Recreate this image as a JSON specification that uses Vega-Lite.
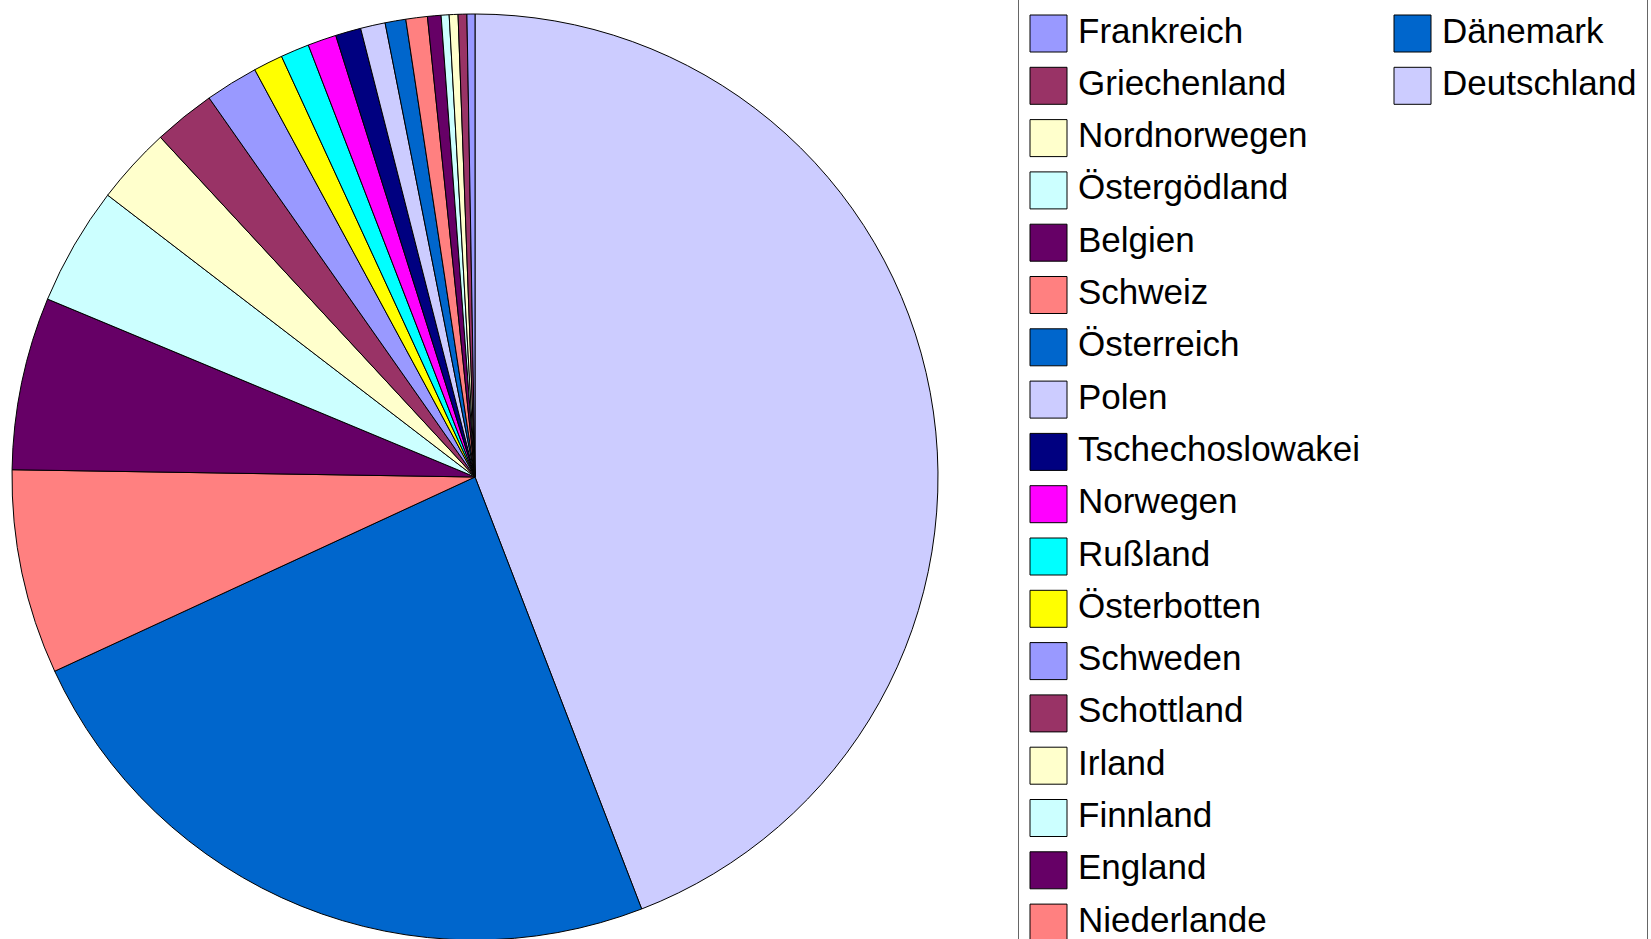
{
  "$schema": "https://vega.github.io/schema/vega-lite/v6.json",
  "padding": {"top": -20, "left": 0, "right": 0, "bottom": 0},
  "background": "white",
  "spacing": 67,
  "config": {"view": {"stroke": null}},
  "data": {
    "values": [
      {"idx": 0, "name": "Deutschland", "value": 158.9},
      {"idx": 1, "name": "Dänemark", "value": 86.3},
      {"idx": 2, "name": "Niederlande", "value": 25.7},
      {"idx": 3, "name": "England", "value": 21.7},
      {"idx": 4, "name": "Finnland", "value": 14.9},
      {"idx": 5, "name": "Irland", "value": 9.7},
      {"idx": 6, "name": "Schottland", "value": 7.75},
      {"idx": 7, "name": "Schweden", "value": 6.65},
      {"idx": 8, "name": "Österbotten", "value": 3.7},
      {"idx": 9, "name": "Rußland", "value": 3.6},
      {"idx": 10, "name": "Norwegen", "value": 3.6},
      {"idx": 11, "name": "Tschechoslowakei", "value": 3.2},
      {"idx": 12, "name": "Polen", "value": 3.1},
      {"idx": 13, "name": "Österreich", "value": 2.6},
      {"idx": 14, "name": "Schweiz", "value": 2.7},
      {"idx": 15, "name": "Belgien", "value": 1.7},
      {"idx": 16, "name": "Östergödland", "value": 1.0},
      {"idx": 17, "name": "Nordnorwegen", "value": 1.1},
      {"idx": 18, "name": "Griechenland", "value": 1.1},
      {"idx": 19, "name": "Frankreich", "value": 1.0}
    ]
  },
  "hconcat": [
    {
      "width": 950,
      "height": 992,
      "mark": {"type": "arc", "radius": 463, "stroke": "black", "strokeWidth": 1},
      "encoding": {
        "theta": {"field": "value", "type": "quantitative", "stack": true},
        "order": {"field": "idx", "type": "quantitative", "sort": "ascending"},
        "color": {
          "field": "name",
          "type": "nominal",
          "scale": {
            "domain": ["Deutschland", "Dänemark", "Niederlande", "England", "Finnland", "Irland", "Schottland", "Schweden", "Österbotten", "Rußland", "Norwegen", "Tschechoslowakei", "Polen", "Österreich", "Schweiz", "Belgien", "Östergödland", "Nordnorwegen", "Griechenland", "Frankreich"],
            "range": ["#CCCCFF", "#0066CC", "#FF8080", "#660066", "#CCFFFF", "#FFFFCC", "#993366", "#9999FF", "#FFFF00", "#00FFFF", "#FF00FF", "#000080", "#CCCCFF", "#0066CC", "#FF8080", "#660066", "#CCFFFF", "#FFFFCC", "#993366", "#9999FF"]
          },
          "legend": null
        }
      }
    },
    {
      "width": 629,
      "height": 1000,
      "view": {"stroke": "#666666", "strokeWidth": 1, "fill": "white"},
      "transform": [
        {"window": [{"op": "row_number", "as": "k"}], "sort": [{"field": "idx", "order": "descending"}]},
        {"calculate": "datum.k > 18 ? 1 : 0", "as": "lcol"},
        {"calculate": "datum.k - 1 - 18 * datum.lcol", "as": "lrow"}
      ],
      "encoding": {
        "x": {"field": "lcol", "type": "quantitative", "scale": {"domain": [0, 1], "range": [30.5, 394.5], "nice": false, "zero": false}, "axis": null},
        "y": {"field": "lrow", "type": "quantitative", "scale": {"domain": [0, 17], "range": [52.5, 941.6], "nice": false, "zero": false}, "axis": null}
      },
      "layer": [
        {
          "mark": {"type": "point", "shape": "square", "size": 1369, "filled": true, "stroke": "black", "strokeWidth": 1, "opacity": 1},
          "encoding": {
            "color": {
              "field": "name",
              "type": "nominal",
              "scale": {
                "domain": ["Deutschland", "Dänemark", "Niederlande", "England", "Finnland", "Irland", "Schottland", "Schweden", "Österbotten", "Rußland", "Norwegen", "Tschechoslowakei", "Polen", "Österreich", "Schweiz", "Belgien", "Östergödland", "Nordnorwegen", "Griechenland", "Frankreich"],
                "range": ["#CCCCFF", "#0066CC", "#FF8080", "#660066", "#CCFFFF", "#FFFFCC", "#993366", "#9999FF", "#FFFF00", "#00FFFF", "#FF00FF", "#000080", "#CCCCFF", "#0066CC", "#FF8080", "#660066", "#CCFFFF", "#FFFFCC", "#993366", "#9999FF"]
              },
              "legend": null
            }
          }
        },
        {
          "mark": {"type": "text", "align": "left", "baseline": "middle", "dx": 29.5, "dy": -2, "font": "Liberation Sans", "fontSize": 35, "color": "black"},
          "encoding": {"text": {"field": "name", "type": "nominal"}}
        }
      ]
    }
  ]
}
